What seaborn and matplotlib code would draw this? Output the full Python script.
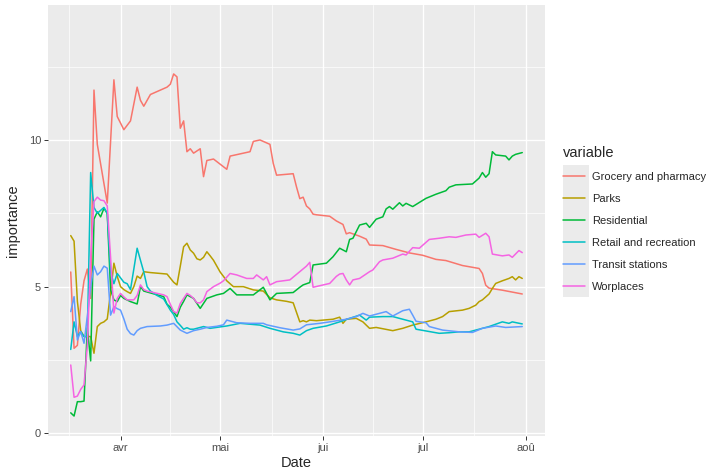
import seaborn as sns
import pandas as pd
import matplotlib.pyplot as plt
import matplotlib.dates as mdates
from matplotlib.ticker import FixedLocator
from matplotlib.patches import Rectangle

# day offsets from the first date and values
start_date = "2020-03-17"

grocery_days = [0, 1, 2, 3, 4, 5, 6, 7, 8, 11, 13, 14, 16, 18, 20, 21, 22, 24, 29, 30,
                31, 32, 33, 34, 35, 36, 37, 39, 40, 41, 43, 47, 48, 54, 55, 57, 58, 60, 61, 62,
                67, 68, 69, 70, 71, 72, 73, 74, 78, 80, 82, 83, 84, 87, 89, 90, 94, 98, 102, 106,
                110, 113, 118, 123, 124, 125, 126, 130, 136]
grocery_vals = [5.5, 2.9, 3.0, 4.4, 5.2, 5.6, 4.6, 11.7, 9.85, 7.85, 12.05, 10.8, 10.35, 10.65, 11.8, 11.35, 11.15, 11.55, 11.8, 11.9,
                12.25, 12.15, 10.4, 10.65, 9.6, 9.7, 9.55, 9.7, 8.75, 9.3, 9.35, 9.0, 9.45, 9.6, 9.95, 10.0, 9.95, 9.85, 9.2, 8.8,
                8.85, 8.4, 8.0, 8.05, 7.75, 7.65, 7.47, 7.45, 7.4, 7.24, 7.12, 6.8, 6.84, 6.72, 6.62, 6.42, 6.4, 6.27, 6.15, 6.07,
                5.93, 5.89, 5.72, 5.62, 5.45, 5.05, 4.95, 4.88, 4.75]

parks_days = [0, 1, 2, 3, 4, 6, 7, 8, 9, 10, 11, 12, 13, 14, 15, 16, 17, 18, 19, 20,
              21, 22, 24, 26, 29, 31, 32, 33, 34, 35, 36, 37, 38, 39, 40, 41, 42, 43, 45, 47,
              49, 52, 55, 58, 60, 62, 65, 67, 69, 70, 71, 72, 74, 76, 79, 81, 82, 83, 86, 88,
              90, 92, 97, 100, 103, 107, 110, 112, 114, 118, 120, 122, 123, 124, 126, 127, 128, 130, 132, 133,
              134, 135, 136]
parks_vals = [6.74, 6.55, 4.5, 3.5, 3.3, 3.3, 2.73, 3.64, 3.75, 3.8, 3.9, 4.8, 5.8, 5.35, 5.0, 4.9, 4.83, 4.77, 5.0, 5.36,
              5.28, 5.51, 5.48, 5.46, 5.43, 5.15, 5.06, 5.7, 6.36, 6.48, 6.25, 6.14, 5.95, 5.91, 6.0, 6.19, 6.05, 5.9, 5.5, 5.2,
              5.0, 5.0, 4.89, 4.85, 4.62, 4.55, 4.5, 4.45, 3.8, 3.84, 3.8, 3.86, 3.84, 3.86, 3.89, 3.96, 3.75, 3.89, 3.92, 3.8,
              3.58, 3.61, 3.5, 3.58, 3.69, 3.8, 3.89, 3.98, 4.15, 4.2, 4.26, 4.37, 4.49, 4.55, 4.75, 4.94, 5.11, 5.2, 5.28, 5.34,
              5.23, 5.34, 5.28]

resid_days = [0, 1, 2, 3, 4, 5, 6, 7, 8, 9, 10, 11, 12, 13, 14, 15, 16, 18, 20, 21, 22,
              28, 29, 30, 32, 33, 34, 35, 37, 39, 41, 44, 46, 48, 50, 55, 58, 60, 62, 67, 69,
              70, 72, 73, 77, 79, 81, 83, 84, 85, 87, 89, 90, 92, 94, 95, 96, 97, 99, 100, 101,
              103, 107, 110, 113, 114, 116, 121, 123, 124, 125, 126, 127, 128, 131, 132, 133, 134, 136]
resid_vals = [0.7, 0.59, 1.08, 1.08, 1.1, 3.6, 2.47, 7.3, 7.55, 7.38, 7.67, 7.5, 4.9, 4.55, 4.49, 4.7, 4.6, 4.49, 4.41, 5.0, 4.85,
              4.66, 4.4, 4.3, 3.98, 4.3, 4.5, 4.72, 4.6, 4.26, 4.6, 4.72, 4.77, 4.94, 4.72, 4.72, 4.98, 4.55, 4.77, 4.8, 4.98,
              5.06, 5.14, 5.74, 5.8, 6.02, 6.31, 6.19, 6.61, 6.65, 7.1, 7.16, 7.02, 7.3, 7.38, 7.65, 7.73, 7.64, 7.86, 7.75, 7.84,
              7.73, 8.01, 8.15, 8.27, 8.39, 8.47, 8.5, 8.7, 8.89, 8.73, 8.85, 9.6, 9.49, 9.45, 9.32, 9.45, 9.51, 9.57]

retail_days = [0, 1, 2, 3, 4, 5, 6, 7, 8, 9, 10, 11, 12, 13, 14, 15, 16, 17, 18, 19, 20, 21, 22, 23, 24,
               26, 28, 30, 31, 32, 33, 34, 35, 36, 37, 40, 42, 47, 51, 57, 60, 64, 67, 69, 71,
               73, 77, 81, 84, 87, 89, 90, 94, 97, 100, 103, 104, 107, 111, 114, 117, 120, 122, 126, 130,
               132, 133, 136]
retail_vals = [2.86, 3.8, 3.3, 3.47, 3.3, 3.3, 8.89, 7.7, 7.5, 7.6, 7.7, 7.5, 5.5, 5.1, 5.45, 5.3, 5.15, 5.1, 4.9, 5.6, 6.31, 5.9, 5.5, 5.0, 4.85,
               4.7, 4.58, 4.2, 4.05, 3.8, 3.68, 3.55, 3.6, 3.55, 3.55, 3.64, 3.58, 3.66, 3.75, 3.69, 3.58, 3.46, 3.41, 3.35, 3.5,
               3.58, 3.66, 3.8, 3.92, 4.03, 3.86, 3.96, 3.98, 3.98, 3.89, 3.8, 3.55, 3.49, 3.41, 3.43, 3.46, 3.46, 3.52, 3.64, 3.8,
               3.75, 3.8, 3.73]

transit_days = [0, 1, 2, 3, 4, 5, 6, 7, 8, 9, 10, 11, 12, 13, 14, 15, 16, 17, 18, 19, 20, 21,
                23, 27, 29, 31, 33, 35, 37, 39, 41, 44, 46, 47, 50, 54, 58, 59, 63, 67,
                69, 71, 75, 78, 83, 86, 88, 90, 95, 97, 100, 102, 103, 104, 107, 108, 112, 117, 121, 124,
                128, 131, 136]
transit_vals = [4.15, 4.66, 3.18, 3.47, 3.07, 4.0, 5.0, 5.7, 5.4, 5.51, 5.7, 5.63, 4.03, 4.32, 4.25, 4.2, 3.9, 3.55, 3.4, 3.35, 3.5, 3.58,
                3.64, 3.66, 3.69, 3.75, 3.52, 3.41, 3.5, 3.55, 3.61, 3.65, 3.7, 3.86, 3.77, 3.75, 3.75, 3.7, 3.6, 3.52,
                3.56, 3.7, 3.75, 3.8, 3.89, 3.98, 4.09, 4.0, 4.15, 4.0, 4.18, 4.23, 4.03, 3.82, 3.77, 3.64, 3.52, 3.46, 3.44, 3.58,
                3.66, 3.61, 3.64]

work_days = [0, 1, 2, 3, 4, 5, 6, 7, 8, 9, 10, 11, 12, 13, 14, 15, 16, 17,
             19, 20, 21, 22, 23, 28, 29, 30, 31, 32, 33, 35, 36, 37, 38, 39, 40, 41,
             43, 45, 46, 48, 50, 53, 55, 56, 58, 59, 60, 62, 66, 71, 72, 73, 78, 80, 81, 82, 83,
             84, 85, 87, 90, 91, 93, 94, 97, 100, 101, 103, 105, 108, 111, 114, 116, 119, 122, 123, 125,
             126, 127, 130, 132, 133, 135, 136]
work_vals = [2.33, 1.23, 1.27, 1.5, 1.65, 3.0, 6.0, 7.9, 8.05, 7.95, 7.93, 7.75, 6.0, 4.1, 4.6, 4.77, 4.65, 4.55,
             4.55, 4.7, 5.06, 4.9, 4.85, 4.72, 4.66, 4.4, 4.15, 4.1, 4.43, 4.77, 4.7, 4.6, 4.45, 4.45, 4.55, 4.83,
             5.0, 5.12, 5.2, 5.45, 5.4, 5.28, 5.28, 5.4, 5.23, 5.34, 5.06, 5.17, 5.23, 5.7, 5.83, 4.98, 5.11, 5.35, 5.43, 5.45, 5.23,
             5.06, 5.23, 5.28, 5.51, 5.57, 5.85, 5.91, 5.97, 6.11, 6.08, 6.33, 6.31, 6.61, 6.65, 6.7, 6.68, 6.76, 6.79, 6.68, 6.82,
             6.7, 6.11, 6.05, 6.08, 6.0, 6.23, 6.16]

variables = ["Grocery and pharmacy", "Parks", "Residential",
             "Retail and recreation", "Transit stations", "Worplaces"]
colors = ["#F8766D", "#B79F00", "#00BA38", "#00BFC4", "#619CFF", "#F564E3"]

month_ticks = ["2020-04-01", "2020-05-01", "2020-06-01", "2020-07-01", "2020-08-01"]
month_labels = ["avr", "mai", "jui", "jul", "aoû"]
minor_ticks = ["2020-03-16 12:00", "2020-04-16 00:00", "2020-05-16 12:00",
               "2020-06-16 00:00", "2020-07-16 12:00"]

# long table for seaborn
series = [(grocery_days, grocery_vals), (parks_days, parks_vals), (resid_days, resid_vals),
          (retail_days, retail_vals), (transit_days, transit_vals), (work_days, work_vals)]
frames = []
for name, (days, vals) in zip(variables, series):
    frames.append(pd.DataFrame({
        "Date": pd.Timestamp(start_date) + pd.to_timedelta(days, unit="D"),
        "importance": vals,
        "variable": name,
    }))
data = pd.concat(frames, ignore_index=True)

sns.set_theme(style="darkgrid", rc={
    "axes.facecolor": "#EBEBEB",
    "grid.color": "white",
})
plt.rcParams["font.family"] = ["Liberation Sans", "DejaVu Sans"]

W, H = 716, 470
fig = plt.figure(figsize=(W / 100, H / 100), dpi=100)
ax = fig.add_axes([48 / W, 1 - 436 / H, (545 - 48) / W, (436 - 5) / H])

sns.lineplot(data=data, x="Date", y="importance", hue="variable",
             hue_order=variables, palette=colors, linewidth=1.1, ax=ax)

# limits (ggplot-style padding)
first = pd.Timestamp(start_date)
last = first + pd.Timedelta(days=136)
pad = pd.Timedelta(days=6.85)
ax.set_xlim(first - pad, last + pad)
ax.set_ylim(-0.09, 14.6)

ax.yaxis.set_major_locator(FixedLocator([0, 5, 10]))
ax.yaxis.set_minor_locator(FixedLocator([2.5, 7.5, 12.5]))
ax.xaxis.set_major_locator(FixedLocator(mdates.date2num(pd.to_datetime(month_ticks))))
ax.xaxis.set_minor_locator(FixedLocator(mdates.date2num(pd.to_datetime(minor_ticks))))
ax.set_xticklabels(month_labels)
ax.set_yticklabels(["0", "5", "10"])

ax.grid(which="major", color="white", linewidth=1.0)
ax.grid(which="minor", color="white", linewidth=0.5)
ax.tick_params(which="major", length=3, width=0.7, color="#333333",
               labelsize=8, labelcolor="#4D4D4D", pad=2, bottom=True, left=True)
ax.tick_params(which="minor", length=0)
for s in ax.spines.values():
    s.set_visible(False)

ax.set_xlabel("Date", fontsize=10.5, labelpad=2)
ax.set_ylabel("importance", fontsize=10.5, labelpad=6)

# legend key background like ggplot, kept beneath the axes
fig.patches.append(Rectangle((563 / W, 1 - 297 / H), 26 / W, 132 / H,
                             transform=fig.transFigure, facecolor="#EBEBEB",
                             edgecolor="none", zorder=-1))
sns.move_legend(ax, "upper left", bbox_to_anchor=(563 / W, 1 - 146 / H),
                bbox_transform=fig.transFigure, frameon=False, title="variable",
                fontsize=8, title_fontsize=10.5, labelspacing=1.08,
                handlelength=2.0, handletextpad=0.6, borderpad=0.0,
                borderaxespad=0.0, alignment="left")
for line in ax.get_legend().get_lines():
    line.set_linewidth(1.1)

fig.savefig("out.png", dpi=100)
print("plot out.png created")
